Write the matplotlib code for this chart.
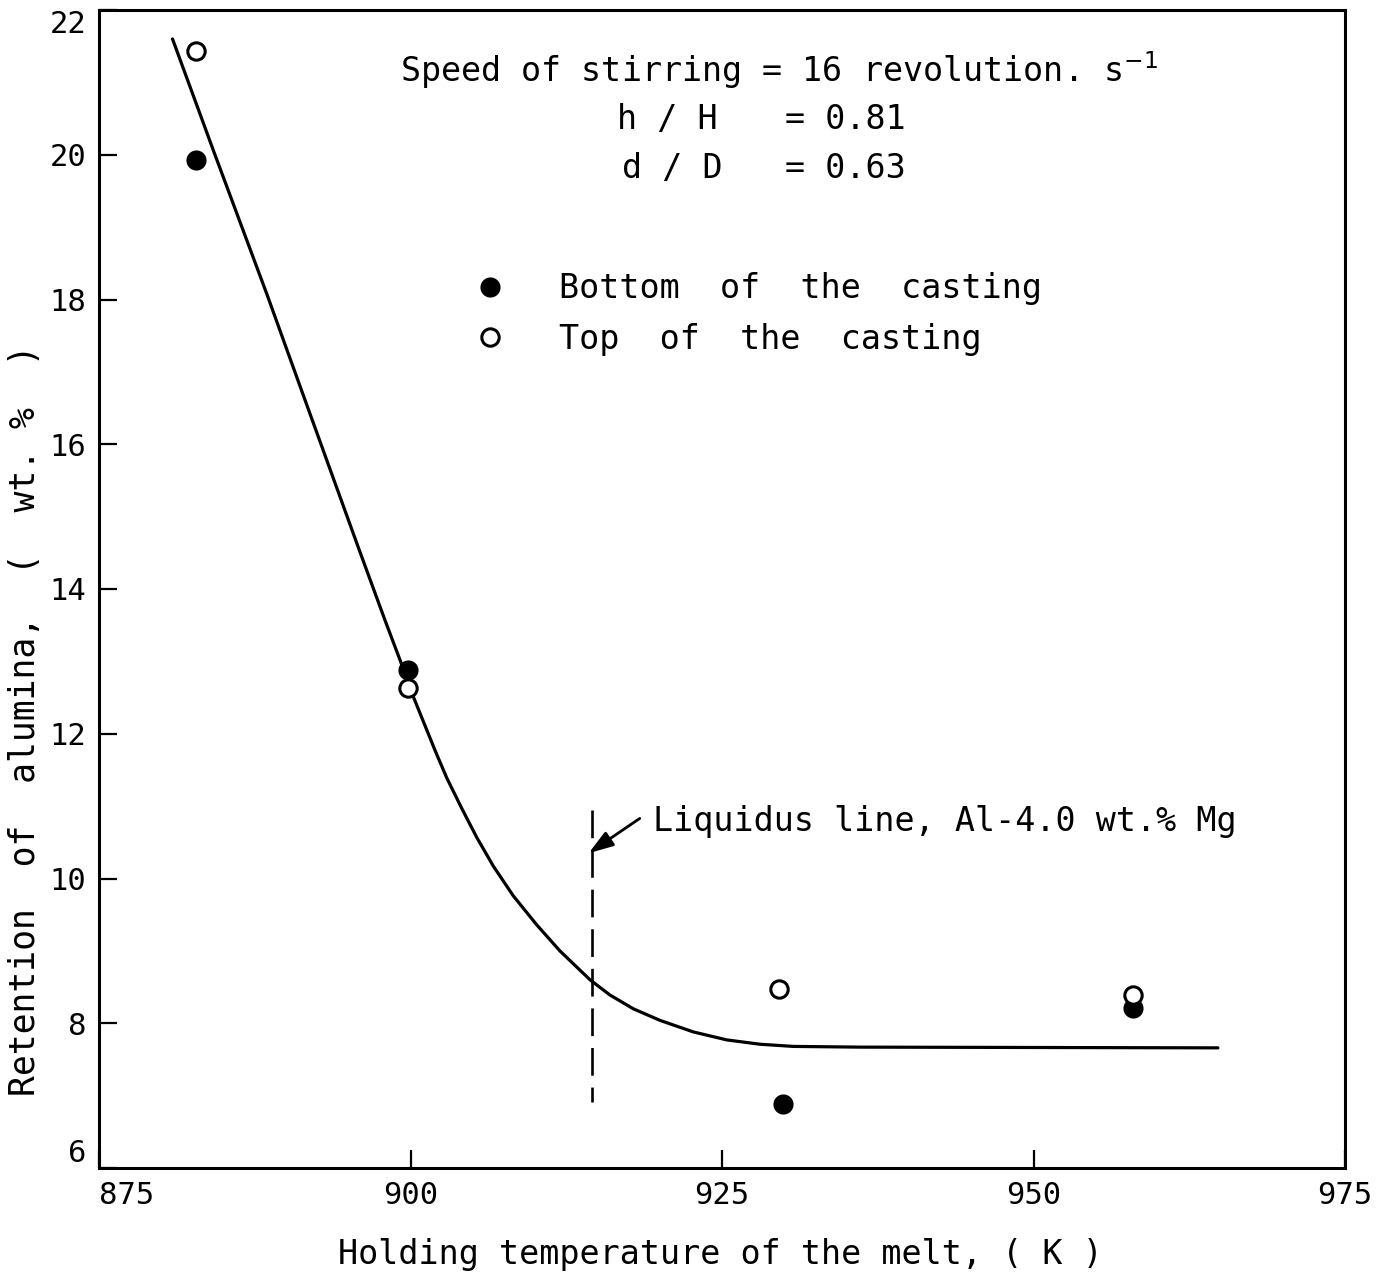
import matplotlib
matplotlib.use("Agg")
import matplotlib.pyplot as plt

# ---- data ----
bottom_temp = [882.8, 899.8, 929.9, 958.0]
bottom_ret = [19.93, 12.88, 6.88, 8.21]
top_temp = [882.8, 899.8, 929.6, 958.0]
top_ret = [21.44, 12.63, 8.47, 8.39]

curve_temp = [880.9, 884.2, 888.46, 891.6, 895.8, 897.95, 899.2, 900.23, 901.03,
              901.97, 902.91, 904.11, 905.31, 906.65, 908.25, 910.13, 911.99,
              914.41, 916.01, 917.88, 920.02, 922.70, 925.38, 928.05, 930.72,
              936.1, 964.8]
curve_ret = [21.60, 20.05, 18.08, 16.58, 14.58, 13.57, 13.00, 12.51, 12.17,
             11.77, 11.39, 10.97, 10.57, 10.17, 9.76, 9.36, 9.00,
             8.60, 8.39, 8.20, 8.04, 7.88, 7.77, 7.71, 7.68,
             7.67, 7.66]

liquidus_temp = 914.6
liquidus_span = [6.91, 10.94]

x_ticks = [875, 900, 925, 950, 975]
y_ticks = [6, 8, 10, 12, 14, 16, 18, 20, 22]

plt.rcParams['font.family'] = ['DejaVu Sans Mono', 'DejaVu Sans']
plt.rcParams['mathtext.fontset'] = 'dejavusans'

fig = plt.figure(figsize=(13.91, 12.78), dpi=100)
ax = fig.add_axes([99/1391, 1-1168/1278, 1246/1391, 1158/1278])

ax.set_xlim(875, 975)
ax.set_ylim(6, 22)
ax.set_xticks(x_ticks)
ax.set_yticks(y_ticks)
ax.tick_params(direction='in', length=13, width=1.6, labelsize=22, pad=9)
for s in ax.spines.values():
    s.set_linewidth(2.2)

# corner tick labels nudged inward as in the reference
ax.get_xticklabels()[0].set_ha('left')
ax.get_yticklabels()[0].set_va('bottom')
ax.get_yticklabels()[-1].set_va('top')

# fitted curve
ax.plot(curve_temp, curve_ret, color='black', lw=2.3, solid_capstyle='round',
        solid_joinstyle='round')

# liquidus line
ax.plot([liquidus_temp, liquidus_temp], [liquidus_span[1], liquidus_span[0]],
        color='black', lw=1.9, dashes=(10.5, 4.5))

# data points
h1, = ax.plot(bottom_temp, bottom_ret, 'o', color='black', ms=14.5, mew=0,
              linestyle='none', label='Bottom  of  the  casting')
h2, = ax.plot(top_temp, top_ret, 'o', mfc='white', mec='black', ms=12.5, mew=2.2,
              linestyle='none', label='Top  of  the  casting')

fs = 24
# legend
ax.legend(handles=[h1, h2], loc='upper left', bbox_to_anchor=(0.3006, 0.7734),
          frameon=False, fontsize=fs, handlelength=1.0, handletextpad=1.57,
          labelspacing=0.53, borderpad=0, borderaxespad=0, markerscale=1.0)

# annotations
ax.text(0.2416, 0.9378, r'Speed of stirring = 16 revolution. s$^{-1}$',
        transform=ax.transAxes, fontsize=fs, ha='left', va='baseline')
ax.text(0.4157, 0.8972, 'h / H', transform=ax.transAxes, fontsize=fs,
        ha='left', va='baseline')
ax.text(0.5506, 0.8972, '= 0.81', transform=ax.transAxes, fontsize=fs,
        ha='left', va='baseline')
ax.text(0.4197, 0.8549, 'd / D', transform=ax.transAxes, fontsize=fs,
        ha='left', va='baseline')
ax.text(0.5506, 0.8549, '= 0.63', transform=ax.transAxes, fontsize=fs,
        ha='left', va='baseline')

ax.text(919.5, 10.65, 'Liquidus line, Al-4.0 wt.% Mg', fontsize=fs,
        ha='left', va='baseline')
ax.annotate('', xy=(914.3, 10.35), xytext=(918.4, 10.83),
            arrowprops=dict(arrowstyle='-|>,head_length=0.75,head_width=0.25',
                            mutation_scale=20, color='black', lw=2.0,
                            shrinkA=0, shrinkB=0))

ax.set_xlabel('Holding temperature of the melt, ( K )', fontsize=fs)
ax.set_ylabel('Retention  of  alumina,  (  wt. %  )', fontsize=25)
ax.xaxis.set_label_coords(0.4984, -0.0751)
ax.xaxis.label.set_va('center')
ax.yaxis.set_label_coords(-0.0594, 0.3869)
ax.yaxis.label.set_va('center')

fig.savefig('out.png', dpi=100)
